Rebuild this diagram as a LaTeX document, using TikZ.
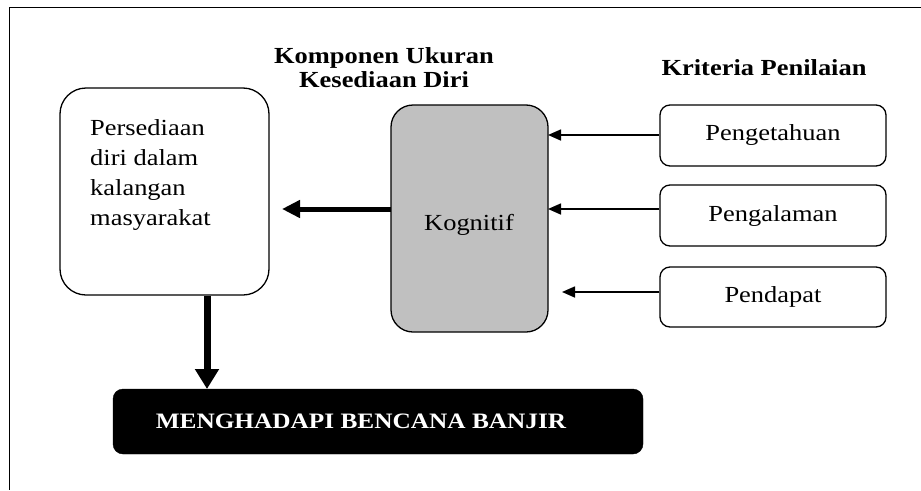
\documentclass[tikz,border=0pt]{standalone}
\usepackage{fontspec}
\setmainfont{Liberation Serif}[FakeStretch=1.15]
\usetikzlibrary{arrows.meta}
\begin{document}
\begin{tikzpicture}[x=1pt,y=-1pt,
  box/.style={draw=black, line width=1.3pt, rounded corners=10pt, inner sep=0pt},
  txt/.style={font=\fontsize{23}{30}\selectfont, inner sep=0pt},
  head/.style={font=\fontsize{23}{24}\selectfont\bfseries, inner sep=0pt, align=center},
  thin/.style={line width=1.6pt, -{Triangle[length=13pt,width=11pt]}},
  thick/.style={line width=5pt, -{Triangle[length=18pt,width=17pt]}}]
\useasboundingbox (0,0) rectangle (921,490);
% frame
\draw[line width=1.3pt] (921,7.5) -- (9.5,7.5) -- (9.5,490);
% boxes
\node[box, rounded corners=26pt, minimum width=209pt, minimum height=207pt] (pers) at (164.5,191.5) {};
\node[txt, anchor=base west, align=left] (perst) at (90,225) {Persediaan\\diri dalam\\kalangan\\masyarakat};
\node[box, rounded corners=22pt, fill={rgb,255:red,192;green,192;blue,192}, minimum width=157pt, minimum height=227pt] (kog) at (469.5,218.5) {};
\node[txt, anchor=base] (kogt) at (469,230) {Kognitif};
\node[head, anchor=base] (h1) at (384,87) {Komponen Ukuran\\Kesediaan Diri};
\node[head, anchor=base] (h2) at (764,75) {Kriteria Penilaian};
\node[box, minimum width=226pt, minimum height=61pt] (p1) at (773,135.5) {};
\node[txt] at (p1) {Pengetahuan};
\node[box, minimum width=226pt, minimum height=61pt] (p2) at (773,215.5) {};
\node[txt] at (p2) {Pengalaman};
\node[box, minimum width=226pt, minimum height=60pt] (p3) at (773,297) {};
\node[txt] at (p3) {Pendapat};
\node[draw=black, fill=black, rounded corners=10pt, minimum width=530pt, minimum height=65pt, inner sep=0pt] (mb) at (378,421.5) {};
\node[text=white, font=\fontsize{22}{24}\selectfont\bfseries, inner sep=0pt] (mbt) at (361,421.5) {MENGHADAPI BENCANA BANJIR};
% connectors
\coordinate (t1) at (548,135);
\coordinate (t2) at (548,209);
\coordinate (t3) at (562,292);
\draw[thin] (p1.west |- t1) -- (t1);
\draw[thin] (p2.west |- t2) -- (t2);
\draw[thin] (p3.west |- t3) -- (t3);
\coordinate (k1) at (391,209);
\coordinate (k2) at (282,209);
\draw[thick] (k1) -- (k2);
\draw[thick, line width=7pt, -{Triangle[length=20pt,width=23pt]}] (pers.south -| 207,0) -- (207,389);
\end{tikzpicture}
\end{document}
